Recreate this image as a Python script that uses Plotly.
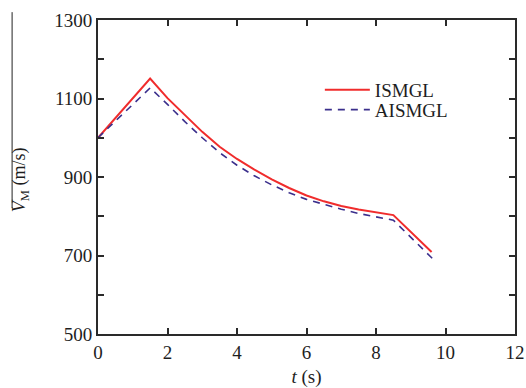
import plotly.graph_objects as go

t_ismgl = [0, 1.5, 2, 2.5, 3, 3.5, 4, 4.5, 5, 5.5, 6, 6.5, 7, 7.5, 8, 8.5, 9.6]
v_ismgl = [1000, 1151, 1101, 1057, 1015, 977, 946, 919, 894, 872, 853, 838, 826, 817, 810, 803, 709]

t_aismgl = [0, 0.5, 1.0, 1.5, 2, 2.5, 3, 3.5, 4, 4.5, 5, 5.5, 6, 6.5, 7, 7.5, 8, 8.5, 9.65]
v_aismgl = [1000, 1042, 1084, 1127, 1085, 1041, 1000, 962, 930, 903, 880, 860, 843, 830, 818, 807, 798, 790, 690]

x_ticks = [0, 2, 4, 6, 8, 10, 12]
y_ticks = [500, 600, 700, 800, 900, 1000, 1100, 1200, 1300]
y_ticktext = ["500", "", "700", "", "900", "", "1100", "", "1300"]

FONT = "Liberation Serif"
TXT = "#1e1e1e"

fig = go.Figure()
fig.add_trace(go.Scatter(x=t_ismgl, y=v_ismgl, mode="lines", name="ISMGL", legend="legend",
                         line=dict(color="#f02c2c", width=2)))
fig.add_trace(go.Scatter(x=t_aismgl, y=v_aismgl, mode="lines", name="AISMGL", legend="legend2",
                         line=dict(color="#3b2f8c", width=1.6, dash="7px,6px")))

axis_common = dict(showgrid=False, zeroline=False, showline=True, linecolor="#2a2a2a",
                   linewidth=2, ticks="inside", ticklen=6, tickwidth=1.5, tickcolor="#2a2a2a",
                   mirror="ticks", automargin=False,
                   tickfont=dict(family=FONT, size=19, color=TXT))

fig.update_xaxes(range=[0, 12], tickvals=x_ticks, **axis_common,
                 title=dict(text="<i>t</i> (s)", font=dict(family=FONT, size=19, color=TXT),
                            standoff=10))
fig.update_yaxes(range=[500, 1300], tickvals=y_ticks, ticktext=y_ticktext, **axis_common)

fig.add_annotation(text="<i>V</i><sub>M</sub> (m/s)", xref="paper", yref="paper",
                   x=-0.187, y=0.49, xanchor="center", yanchor="middle",
                   textangle=-90, showarrow=False,
                   font=dict(family=FONT, size=18, color=TXT))
fig.add_shape(type="line", xref="paper", yref="paper", x0=-0.206, x1=-0.206,
              y0=0.401, y1=1.025, line=dict(color="#222222", width=1))

leg_common = dict(xanchor="left", yanchor="middle", bgcolor="rgba(0,0,0,0)",
                  itemwidth=45, font=dict(family=FONT, size=19, color=TXT))

fig.update_layout(
    width=526, height=388,
    margin=dict(l=98, r=11, t=20, b=54),
    paper_bgcolor="white", plot_bgcolor="white",
    showlegend=True,
    legend=dict(x=0.532, y=0.777, **leg_common),
    legend2=dict(x=0.532, y=0.714, **leg_common),
)

fig.write_html("out.html", config={"displayModeBar": False},
               post_script="document.body.style.margin='0';")
